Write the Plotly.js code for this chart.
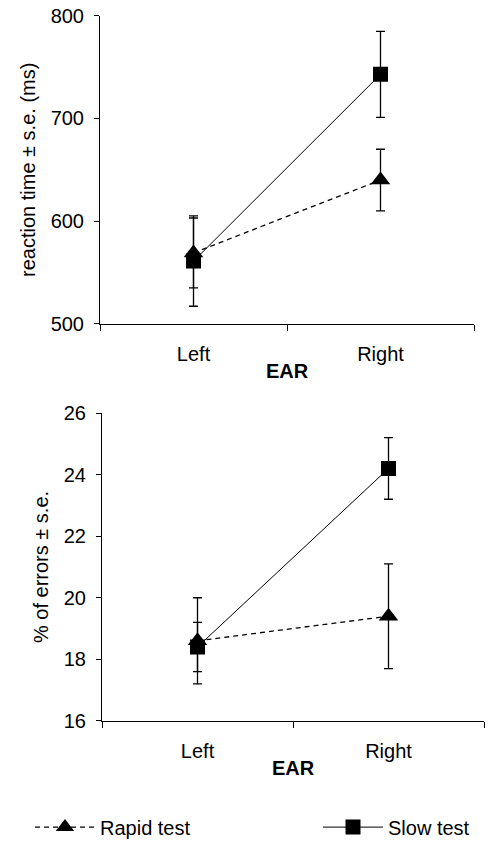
<!DOCTYPE html>
<html>
<head>
<meta charset="utf-8">
<script src="https://cdn.plot.ly/plotly-3.0.1.min.js"></script>
<style>html,body{margin:0;padding:0;background:#fff;overflow:hidden;}#chart{width:491px;height:847px;}</style>
</head>
<body>
<div id="chart"></div>
<script>
var ears = ["Left", "Right"];
// reaction time (ms)
var rapidRT = [569, 640];
var rapidRTse = [34, 30];
var slowRT = [561, 743];
var slowRTse = [44, 42];
// % of errors
var rapidErr = [18.6, 19.4];
var rapidErrSe = [1.4, 1.7];
var slowErr = [18.4, 24.2];
var slowErrSe = [0.8, 1.0];

var font = "Liberation Sans, Arial, sans-serif";

function tr(name, x, y, se, xa, ya, sym, size, dash, lw, show, lg) {
  return {
    type: "scatter", mode: "lines+markers", name: name,
    x: x, y: y, xaxis: xa, yaxis: ya, showlegend: show, legend: lg,
    line: {color: "#000", width: lw, dash: dash},
    marker: {symbol: sym, size: size, color: "#000"},
    error_y: {type: "data", array: se, visible: true, color: "#000", thickness: 1.3, width: 4.5}
  };
}

var data = [
  tr("Rapid test", ears, rapidRT, rapidRTse, "x", "y", "triangle-up", 17, "5px,4px", 1.3, true, "legend"),
  tr("Slow test", ears, slowRT, slowRTse, "x", "y", "square", 15, "solid", 1, true, "legend2"),
  tr("Rapid test", ears, rapidErr, rapidErrSe, "x2", "y2", "triangle-up", 17, "5px,4px", 1.3, false, "legend"),
  tr("Slow test", ears, slowErr, slowErrSe, "x2", "y2", "square", 15, "solid", 1, false, "legend2")
];

function xax(domain, anchor) {
  return {
    domain: domain, anchor: anchor, type: "category", range: [-0.5, 1.5],
    tickson: "boundaries", ticks: "outside", ticklen: 6, tickcolor: "#000",
    showline: true, linecolor: "#000", linewidth: 1, showgrid: false, zeroline: false,
    ticklabelstandoff: 12,
    tickfont: {family: font, size: 20, color: "#000"},
    title: {text: "<b>EAR</b>", font: {family: font, size: 20, color: "#000"}, standoff: 0}
  };
}
function yax(domain, anchor, range, dtick, title) {
  return {
    domain: domain, anchor: anchor, range: range, dtick: dtick,
    ticks: "outside", ticklen: 5, tickcolor: "#000",
    showline: true, linecolor: "#000", linewidth: 1, showgrid: false, zeroline: false,
    ticklabelstandoff: 6,
    tickfont: {family: font, size: 20, color: "#000"},
    title: {text: title, font: {family: font, size: 20, color: "#000"}, standoff: 9}
  };
}

function lg(x) {
  return {
    orientation: "h", x: x, xanchor: "left", y: 1 - 833/847, yanchor: "middle",
    itemwidth: 60, font: {family: font, size: 20, color: "#000"}, bgcolor: "rgba(0,0,0,0)"
  };
}

var layout = {
  width: 491, height: 847,
  margin: {l: 0, r: 0, t: 0, b: 0},
  paper_bgcolor: "#fff", plot_bgcolor: "#fff",
  showlegend: true,
  xaxis: xax([100/491, 474/491], "y"),
  yaxis: yax([1 - 326/847, 1 - 16/847], "x", [500, 800], 100, "reaction time ± s.e. (ms)"),
  xaxis2: xax([102/491, 484/491], "y2"),
  yaxis2: yax([1 - 726/847, 1 - 416/847], "x2", [16, 26], 2, "% of errors ± s.e."),
  legend: lg(30/491),
  legend2: lg(318/491)
};

Plotly.newPlot("chart", data, layout, {staticPlot: true, displayModeBar: false});
</script>
</body>
</html>
